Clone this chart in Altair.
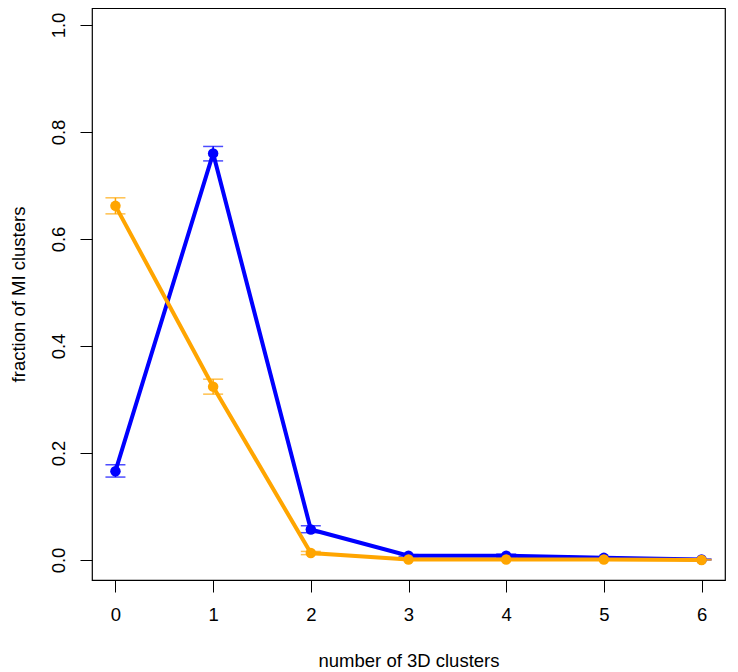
import altair as alt
import pandas as pd

x_vals = [0, 1, 2, 3, 4, 5, 6]
blue_y = [0.166, 0.760, 0.057, 0.008, 0.008, 0.004, 0.001]
blue_lo = [0.155, 0.746, 0.051, 0.006, 0.005, 0.003, 0.000]
blue_hi = [0.178, 0.773, 0.064, 0.010, 0.011, 0.005, 0.002]
orange_y = [0.662, 0.324, 0.013, 0.001, 0.001, 0.001, 0.000]
orange_lo = [0.647, 0.310, 0.010, 0.000, 0.000, 0.000, 0.000]
orange_hi = [0.677, 0.338, 0.016, 0.002, 0.002, 0.002, 0.001]

x_ticks = [0, 1, 2, 3, 4, 5, 6]
y_ticks = [0.0, 0.2, 0.4, 0.6, 0.8, 1.0]

FONT = "Liberation Sans"
FS = 18.5

xs = alt.Scale(domain=[-0.24, 6.24], nice=False, zero=False)
ys = alt.Scale(domain=[-0.0374, 1.0318], nice=False, zero=False)

xax = alt.Axis(values=x_ticks, title="number of 3D clusters", format="d",
               labelFont=FONT, labelFontSize=FS, titleFont=FONT, titleFontSize=FS,
               titleFontWeight="normal", tickSize=12, tickColor="black", tickWidth=1,
               domain=False, grid=False, labelColor="black", titleColor="black",
               labelPadding=13, titlePadding=28)
yax = alt.Axis(values=y_ticks, title="fraction of MI clusters", format=".1f",
               labelFont=FONT, labelFontSize=FS, titleFont=FONT, titleFontSize=FS,
               titleFontWeight="normal", tickSize=12, tickColor="black", tickWidth=1,
               domain=False, grid=False, labelColor="black", titleColor="black",
               labelAngle=270, labelAlign="center", labelBaseline="bottom",
               labelPadding=12, titlePadding=21)


def series_layers(yv, lo, hi, color):
    df = pd.DataFrame({"x": x_vals, "y": yv, "lo": lo, "hi": hi})
    base = alt.Chart(df)
    line = base.mark_line(color=color, strokeWidth=4).encode(
        x=alt.X("x:Q", scale=xs, axis=xax), y=alt.Y("y:Q", scale=ys, axis=yax))
    pts = base.mark_circle(color=color, size=110, opacity=1).encode(
        x=alt.X("x:Q", scale=xs), y=alt.Y("y:Q", scale=ys))
    bar = base.mark_rule(color=color, strokeWidth=1.5).encode(
        x=alt.X("x:Q", scale=xs), y=alt.Y("lo:Q", scale=ys), y2="hi:Q")
    cap_lo = base.mark_tick(color=color, orient="horizontal", size=20, thickness=1.5).encode(
        x=alt.X("x:Q", scale=xs), y=alt.Y("lo:Q", scale=ys))
    cap_hi = base.mark_tick(color=color, orient="horizontal", size=20, thickness=1.5).encode(
        x=alt.X("x:Q", scale=xs), y=alt.Y("hi:Q", scale=ys))
    return [bar, cap_lo, cap_hi, line, pts]


layers = series_layers(blue_y, blue_lo, blue_hi, "#0000FF") + \
    series_layers(orange_y, orange_lo, orange_hi, "#FFA500")

chart = alt.layer(*layers).properties(
    width=633, height=572,
    autosize=alt.AutoSizeParams(type="none"),
    padding={"left": 84, "top": 0, "right": 5, "bottom": 92},
).configure(
    background="white",
    view=alt.ViewConfig(stroke="black", strokeWidth=1.2),
)

chart.save("out.html", embed_options={"renderer": "svg", "actions": False})
